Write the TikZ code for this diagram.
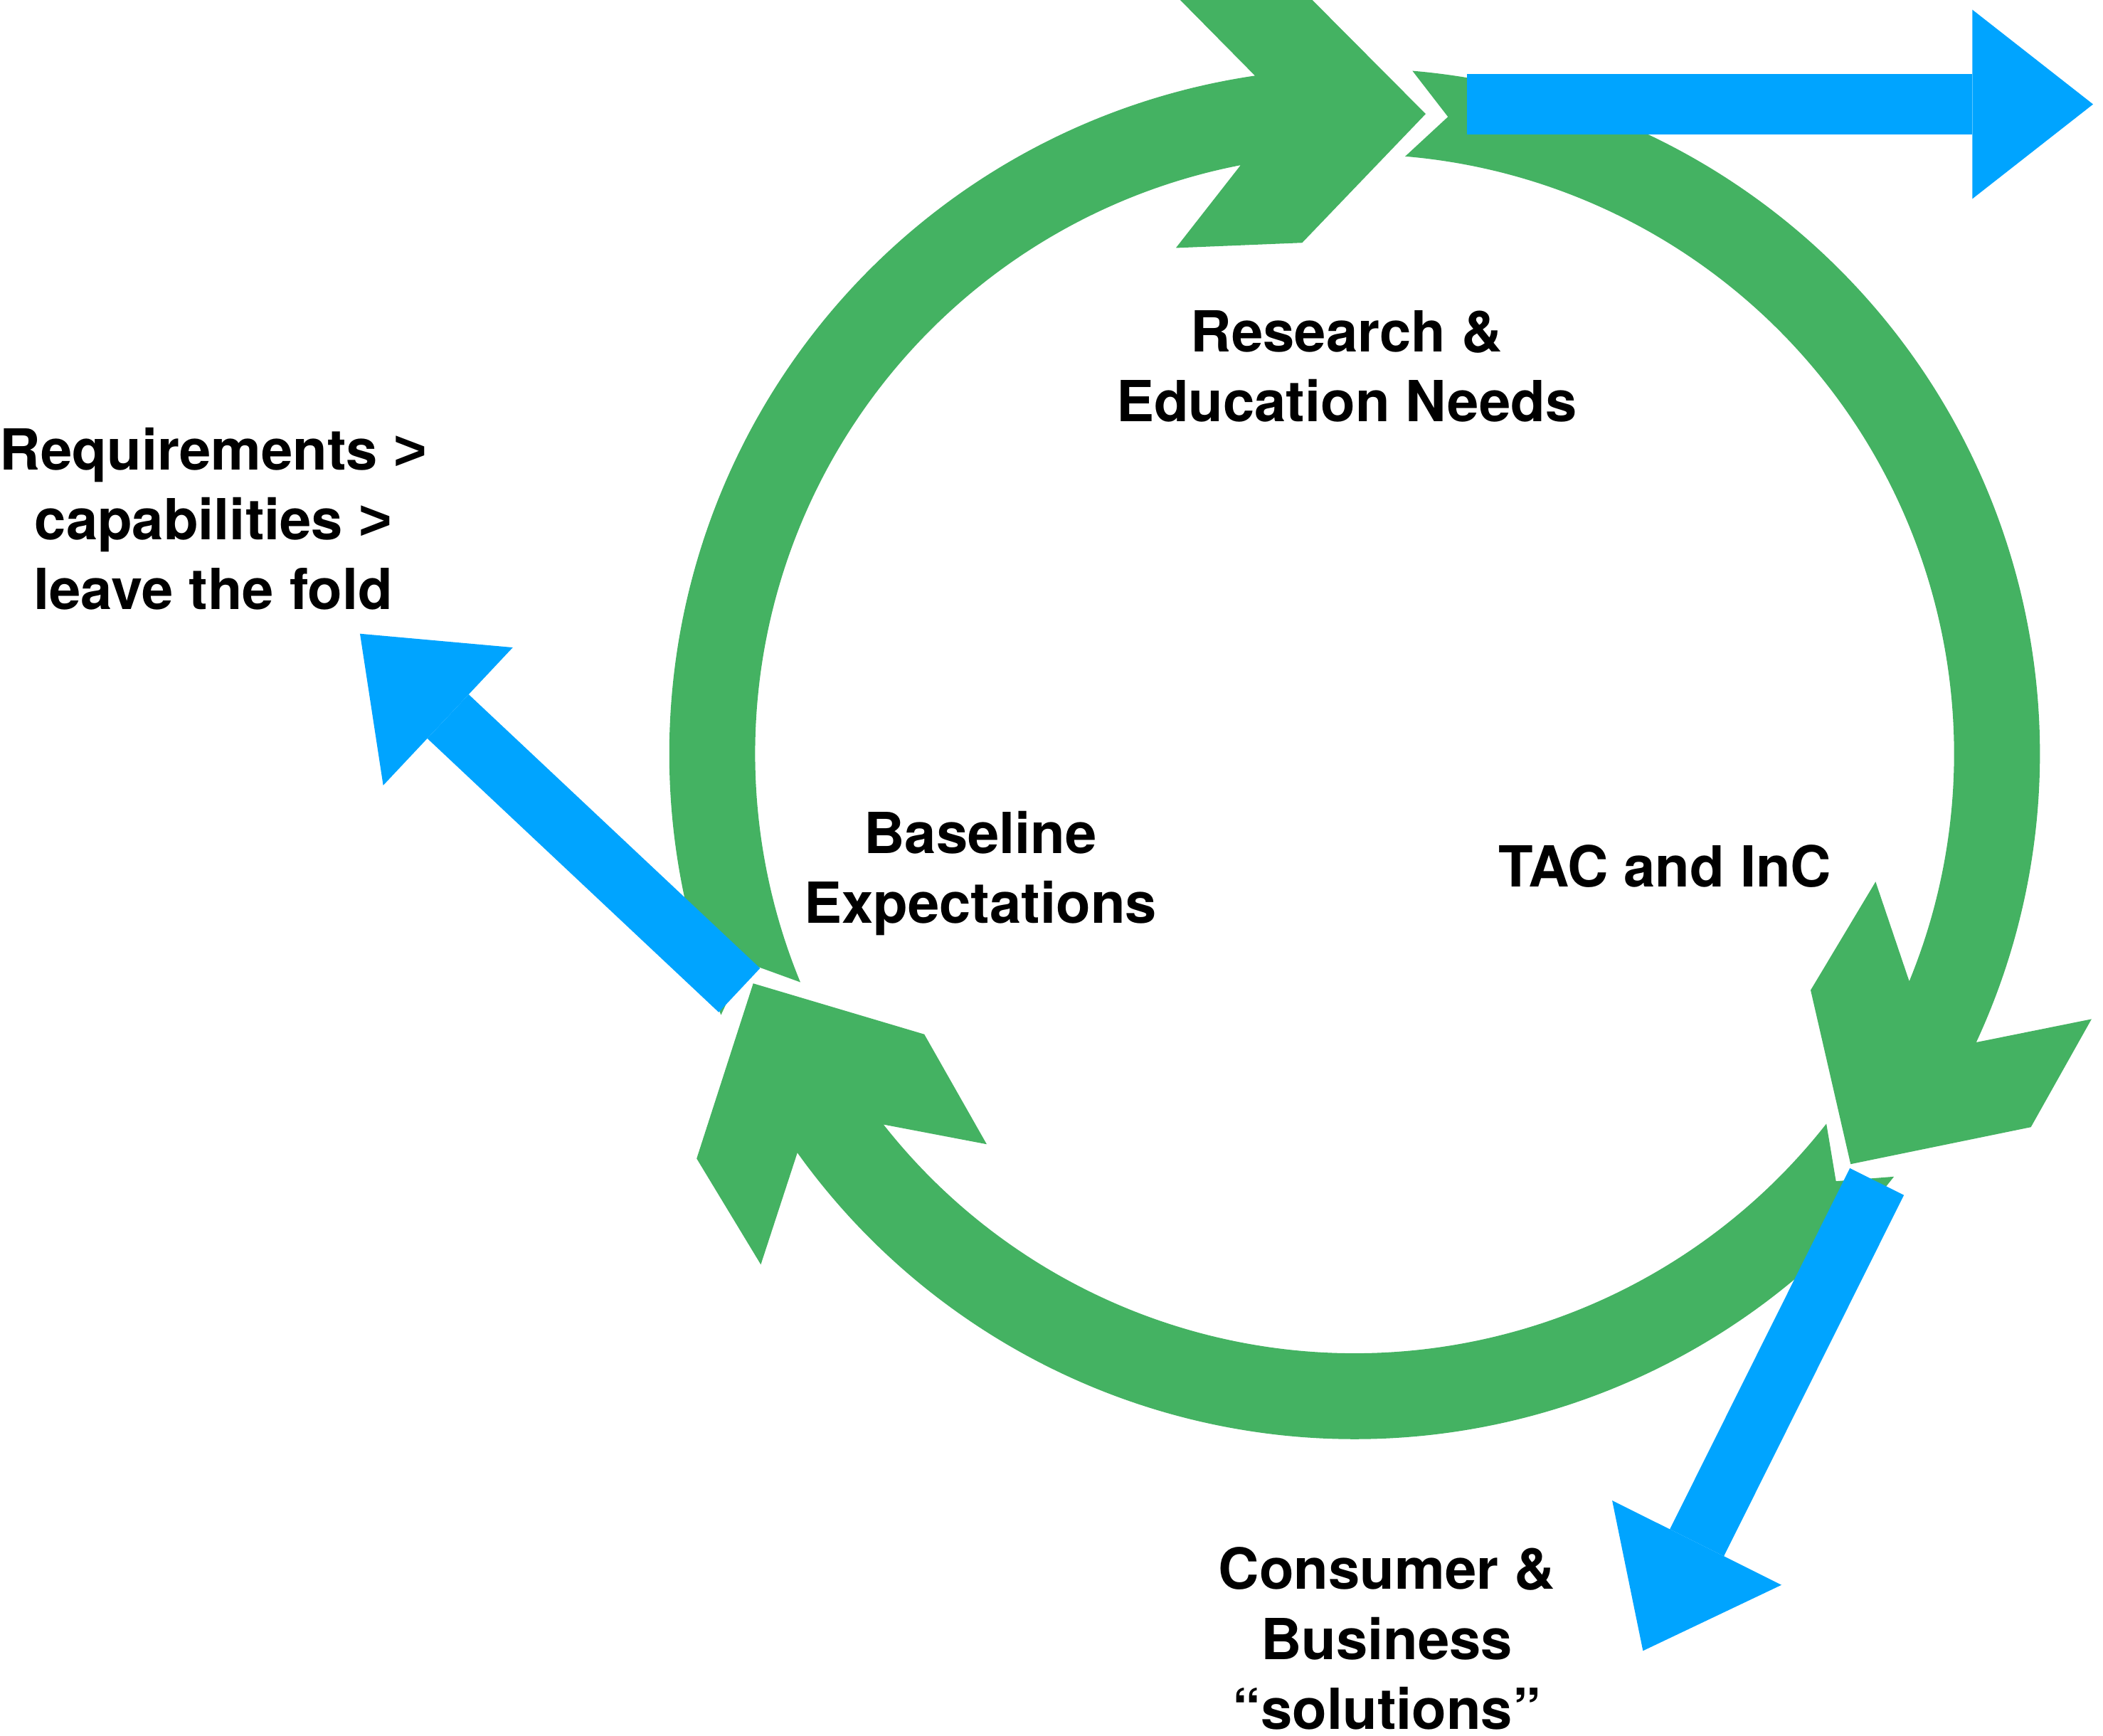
\documentclass[tikz,border=0pt]{standalone}
\usepackage{fontspec}
\setmainfont{TeX Gyre Heros}
\newfontfamily\gtfont{Liberation Sans}
\newcommand{\gtsign}{{\gtfont\bfseries >}}
\usepackage{tikz}
\usetikzlibrary{arrows.meta}
\definecolor{ringgreen}{RGB}{68,178,98}
\definecolor{outblue}{RGB}{0,164,255}
\tikzstyle{txt} = [align=center, inner sep=0pt, anchor=north, font=\bfseries\fontsize{12}{14.8}\selectfont]
\tikzstyle{greenarrow} = [fill=ringgreen]
\tikzset{
  bluearrow/.style={
    draw=outblue,
    line width=0.45cm,
    -{Triangle[length=0.9cm, width=1.41cm, line width=0pt]}
    },
}

\begin{document}
\begin{tikzpicture}[x=0.01cm, y=0.01cm]
\useasboundingbox (0,0) rectangle (1568,1294);
\clip (0,0) rectangle (1568,1294);
\coordinate (ctr) at (1010,732);

% ring of three green arrows (tail angle / tip angle)
\begin{scope}[shift={(ctr)}]
\foreach \tl/\tp in {200.9/83.66, 83.66/-39.6, -39.6/-159.1} {
  \fill [greenarrow] ({\tl+1.5}:511) arc[start angle=\tl+1.5, end angle=\tp+14.7, radius=511]
    -- ({\tp+19.8}:584) -- ({\tp+10.7}:576) -- (\tp:480) -- ({\tp+12.2}:383)
    -- ({\tp+25.8}:400) -- ({\tp+17.3}:447)
    arc[start angle=\tp+17.3, end angle=\tl+1.5, radius=447] -- ({\tl-2}:480) -- cycle;
}
\end{scope}

\node (res) [txt] at (1004,1063) {Research \&\\Education Needs};
\node (req) [txt] at (159,976) {Requirements \gtsign\\capabilities \gtsign\\leave the fold};
\node (base) [txt] at (731,690) {Baseline\\Expectations};
\node (tac) [txt] at (1241.5,665) {TAC and InC};
\node (cons) [txt] at (1034,141) {Consumer \&\\Business\\“solutions”};

% outgoing blue arrows
\coordinate (topfrom) at (1094,1216.25);
\coordinate (topto) at (1560.6,1216.25);
\coordinate (leftfrom) at (551.3,555.7);
\coordinate (leftto) at (268.4,821.5);
\coordinate (botfrom) at (1399.4,413);
\coordinate (botto) at (1225,63.2);

\draw [bluearrow] (topfrom) -- (topto);
\draw [bluearrow] (leftfrom) -- (leftto);
\draw [bluearrow] (botfrom) -- (botto);

\end{tikzpicture}
\end{document}
